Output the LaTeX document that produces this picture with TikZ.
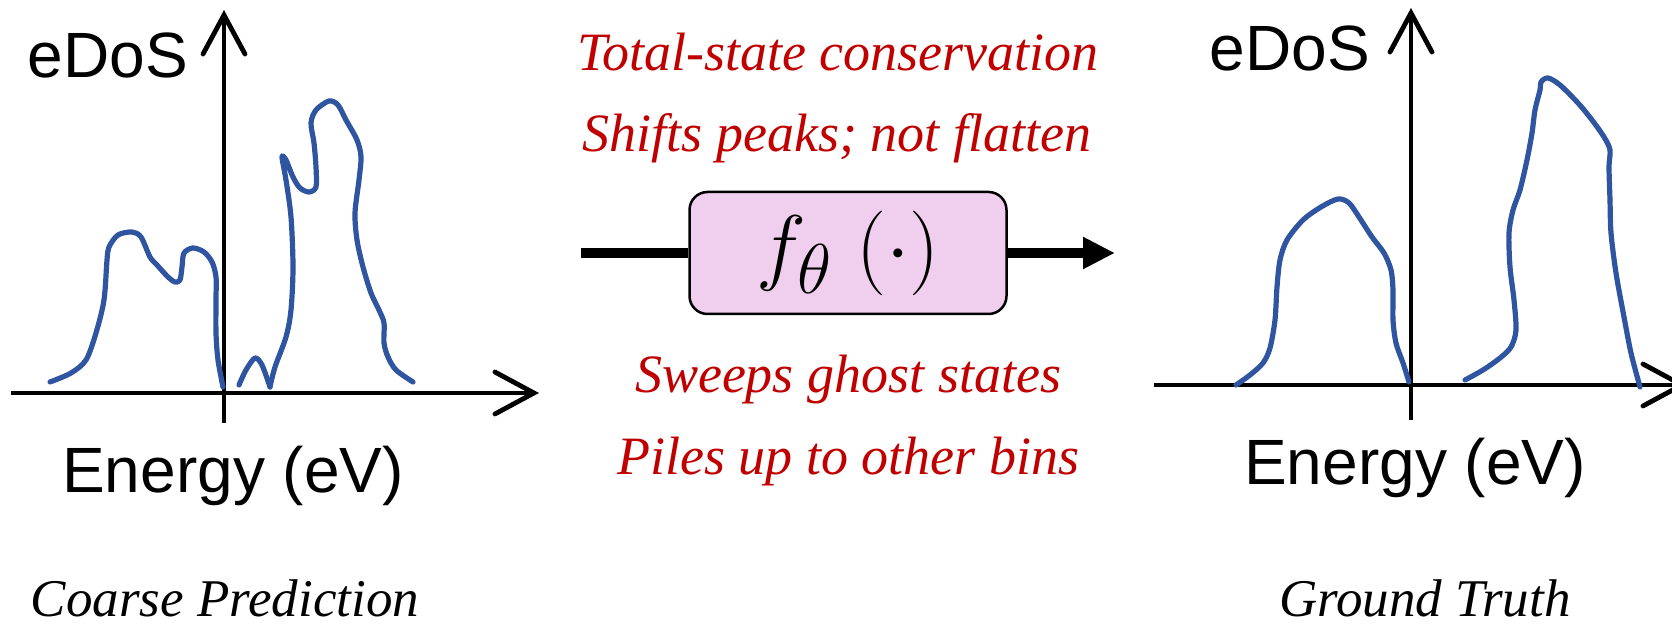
\documentclass[tikz,border=0pt]{standalone}
\usepackage{fontspec}
\setmainfont{Liberation Serif}
\newfontfamily\labelfont{Liberation Sans}
\usetikzlibrary{positioning,arrows.meta}
\definecolor{dosclr}{RGB}{47,84,160}
\definecolor{noteclr}{RGB}{192,0,0}
\definecolor{netclr}{RGB}{240,206,238}
\tikzset{
    axisline/.style={line width=2.4pt,-{Straight Barb[length=19.5pt,width=21pt,line cap=round]}},
    dos/.style={draw=dosclr,line width=2.6pt,line cap=round,line join=round},
    axlabel/.style={font=\labelfont\fontsize{32}{36}\selectfont,anchor=base,inner sep=0pt},
    note/.style={font=\itshape\fontsize{27}{32}\selectfont,text=noteclr,anchor=base,inner sep=0pt},
    caption/.style={font=\itshape\fontsize{26.5}{31}\selectfont,anchor=base,inner sep=0pt,text depth=0pt},
    netbox/.style={draw,line width=1.25pt,rounded corners=9pt,fill=netclr,minimum width=158.5pt,minimum height=61pt,inner sep=0pt},
    flow/.style={line width=5pt,-{Triangle[length=16pt,width=15pt]}},
}

\begin{document}
\begin{tikzpicture}[x=0.5pt,y=-0.5pt]
\useasboundingbox (0,0) rectangle (1672,624);

% coarse prediction
\coordinate (lo) at (11,393);
\coordinate (lx) at (539,393);
\coordinate (lb) at (224,423);
\coordinate (ly) at (224,10);
\draw[axisline] (lo) -- (lx);
\draw[axisline] (lb) -- (ly);
\node[axlabel] (ldos) at (108,78) {eDoS};
\node[axlabel] (len) at (233,493) {Energy (eV)};
\draw[dos] plot[smooth,tension=0.5] coordinates {(50,382) (71,373) (86,360) (96,333) (104,300) (107,260) (109,247) (118,235) (132,232) (141,237) (150,257) (157,265) (168,277) (175,282) (180,280) (182,267) (184,253) (193,248) (204,252) (212,262) (216,277) (216,300) (216,333) (218,360) (223,387)};
\draw[dos] plot[smooth,tension=0.5] coordinates {(239,385) (246,370) (255,358) (262,365) (270,387)};
\draw[dos] plot[smooth,tension=0.5] coordinates {(270,387) (275,367) (286,337) (291,310) (293,267) (291,217) (286,180) (282,157) (286,160) (293,177) (300,188) (309,192) (316,187) (316,167) (314,143) (311,123) (316,110) (329,101) (338,105) (346,120) (357,140) (361,157) (359,180) (355,213) (357,240) (363,267) (371,293) (379,310) (384,323) (384,343) (388,357) (396,370) (413,382)};
\node[caption] (coarse) at (225,617) {Coarse Prediction};

% refinement
\node[netbox] (net) at (848,253) {\scalebox{1.7}{\Huge $f_\theta\;(\cdot)$}};
\coordinate (in) at (581,253);
\coordinate (out) at (1115,253);
\draw[line width=5pt] (in) -- (net.west);
\draw[flow] (net.east) -- (out);
\node[note] (n1) at (838,71) {Total-state conservation};
\node[note] (n2) at (837,152) {Shifts peaks; not flatten};
\node[note] (n3) at (848,393) {Sweeps ghost states};
\node[note] (n4) at (848,475) {Piles up to other bins};

% ground truth
\coordinate (ro) at (1154,385);
\coordinate (rx) at (1687,385);
\coordinate (rb) at (1411,420);
\coordinate (ry) at (1411,8);
\draw[axisline] (ro) -- (rx);
\draw[axisline] (rb) -- (ry);
\node[axlabel] (rdos) at (1290,71) {eDoS};
\node[axlabel] (ren) at (1415,485) {Energy (eV)};
\draw[dos] plot[smooth,tension=0.5] coordinates {(1236,385) (1250,375) (1263,363) (1270,348) (1275,320) (1277,287) (1280,260) (1287,240) (1303,220) (1321,207) (1338,199) (1349,203) (1359,217) (1372,237) (1384,253) (1391,270) (1393,290) (1393,320) (1396,343) (1403,363) (1409,382)};
\draw[dos] plot[smooth,tension=0.5] coordinates {(1465,380) (1483,370) (1500,358) (1511,347) (1516,330) (1514,300) (1510,267) (1509,233) (1513,210) (1520,190) (1527,160) (1532,133) (1535,110) (1540,90) (1541,82) (1548,78) (1560,85) (1578,103) (1592,120) (1604,137) (1610,150) (1609,167) (1610,200) (1611,233) (1616,273) (1624,317) (1631,353) (1640,387)};
\node[caption] (truth) at (1425,617) {Ground Truth};
\end{tikzpicture}
\end{document}
